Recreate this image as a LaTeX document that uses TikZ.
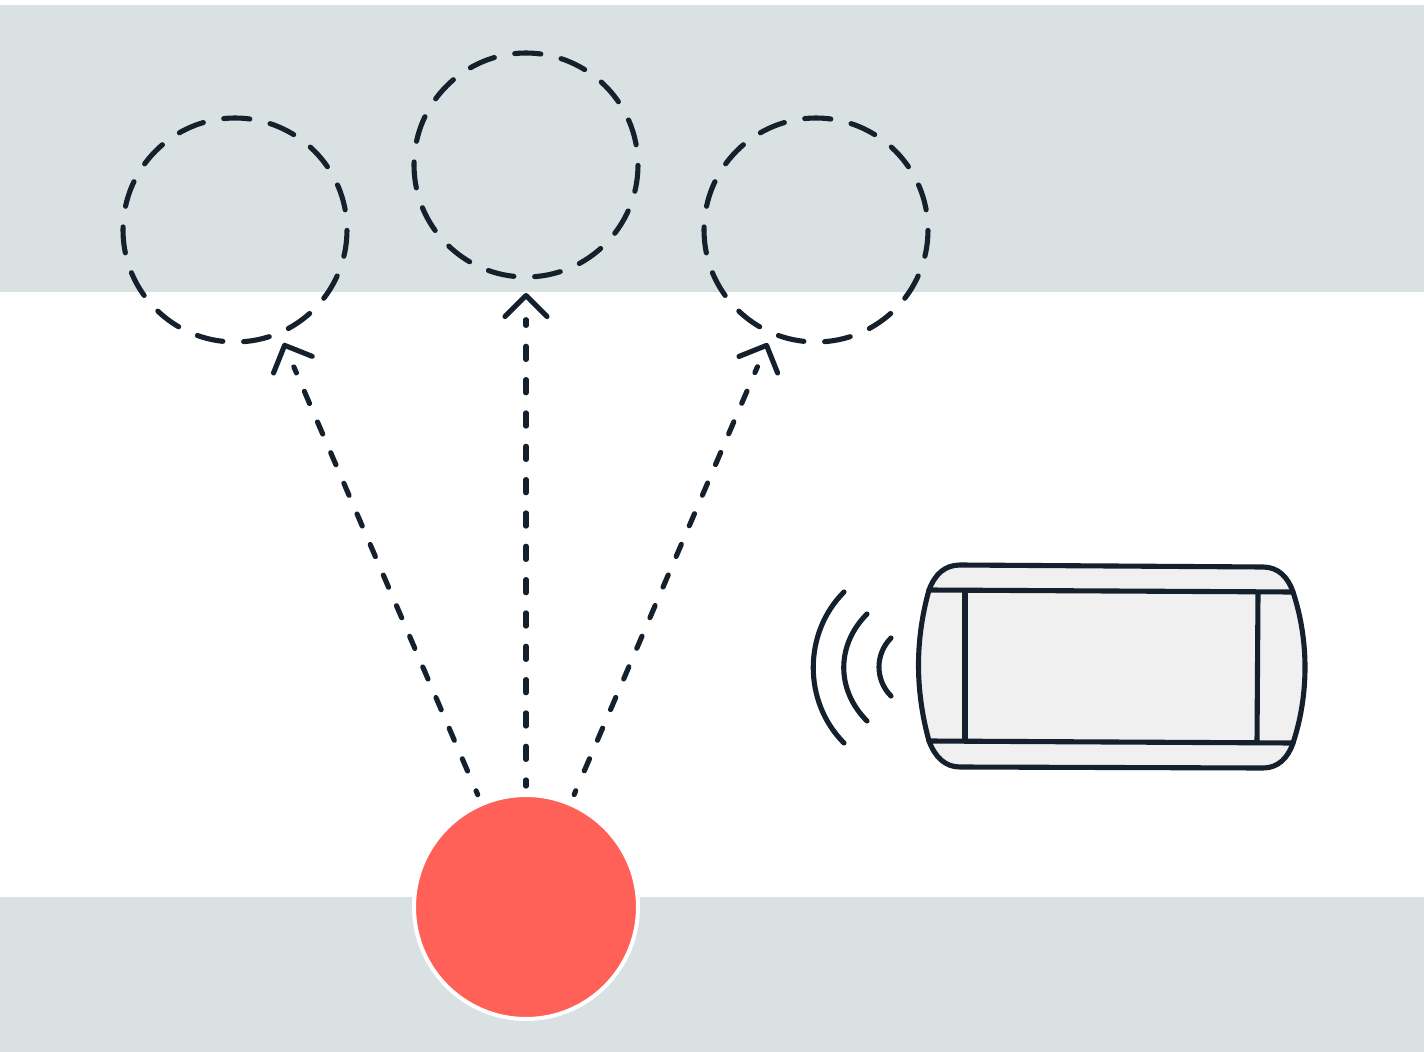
\documentclass[tikz,border=0pt]{standalone}
\usetikzlibrary{arrows.meta}
\definecolor{band}{HTML}{D9E1E3}
\definecolor{ink}{HTML}{14202C}
\definecolor{coral}{HTML}{FF6057}
\definecolor{body}{HTML}{F0F0F0}
\tikzset{
  x=0.05cm,y=-0.05cm,
  ink line/.style={draw=ink,line width=0.255cm,line cap=round,line join=round},
  target/.style={circle,ink line,inner sep=0,outer sep=0,minimum size=11.2cm,dash pattern=on 1.305cm off 1.0412cm,dash phase=1.33cm},
  origin/.style={circle,fill=coral,draw=white,line width=0.2cm,inner sep=0,outer sep=0,minimum size=11.2cm},
  shaft/.style={ink line,-{Straight Barb[length=1.05cm,width=2.1cm,round,line width=0.255cm]}},
  side shaft/.style={shaft,shorten <=0.515cm,shorten >=0.55cm,
    dash pattern=on .21cm off 1.08cm
      on .66cm off 1.0065cm on .66cm off 1.0065cm on .66cm off 1.0065cm on .66cm off 1.0065cm
      on .66cm off 1.0065cm on .66cm off 1.0065cm on .66cm off 1.0065cm on .66cm off 1.0065cm
      on .66cm off 1.0065cm on .66cm off 1.0065cm on .66cm off 1.0065cm on .66cm off 1.0065cm
      on .66cm off 1.0065cm on .325cm off 100cm},
  centre shaft/.style={shaft,shorten <=0.445cm,shorten >=0.8cm,
    dash pattern=on .31cm off 1.025cm
      on .66cm off 1.0065cm on .66cm off 1.0065cm on .66cm off 1.0065cm on .66cm off 1.0065cm
      on .66cm off 1.0065cm on .66cm off 1.0065cm on .66cm off 1.0065cm on .66cm off 1.0065cm
      on .66cm off 1.0065cm on .66cm off 1.0065cm on .66cm off 1.0065cm on .66cm off 1.0065cm
      on .66cm off 1.04cm on .29cm off 100cm},
}
\begin{document}
\begin{tikzpicture}
\useasboundingbox (0,0) rectangle (1424,1052);
\fill[white] (0,0) rectangle (1424,1052);
\fill[band] (0,5) rectangle (1424,292);
\fill[band] (0,897.4) rectangle (1424,1052);
\node[target] (left) at (235,230) {};
\node[target] (mid) at (526,165) {};
\node[target] (right) at (816,230) {};
\node[origin] (red) at (526,907) {};
\draw[side shaft] (red) -- (left);
\draw[centre shaft] (red) -- (mid);
\draw[side shaft] (red) -- (right);
% device
\coordinate (tl) at (929,590);
\coordinate (tr) at (1293,592);
\coordinate (br) at (1293,743);
\coordinate (bl) at (929,741);
\path[ink line,fill=body] (tl) .. controls (935,574) and (945,565) .. (960,565)
  -- (1263,567) .. controls (1278,567) and (1288,577) .. (tr)
  .. controls (1309,640) and (1309,695) .. (br)
  .. controls (1288,758) and (1278,768) .. (1263,768)
  -- (960,767) .. controls (945,767) and (935,757) .. (bl)
  .. controls (915,690) and (915,640) .. cycle;
\draw[ink line] (tl) -- (tr);
\draw[ink line] (bl) -- (br);
\draw[ink line] (965,592) -- (965,741);
\draw[ink line] (1258,593) -- (1257,742);
% waves
\draw[ink line] (844,592) .. controls (803,633) and (803,702) .. (844,743);
\draw[ink line] (867,614) .. controls (836,645) and (836,690) .. (867,721);
\draw[ink line] (891,638) .. controls (875,654) and (875,680) .. (891,696);
\end{tikzpicture}
\end{document}
